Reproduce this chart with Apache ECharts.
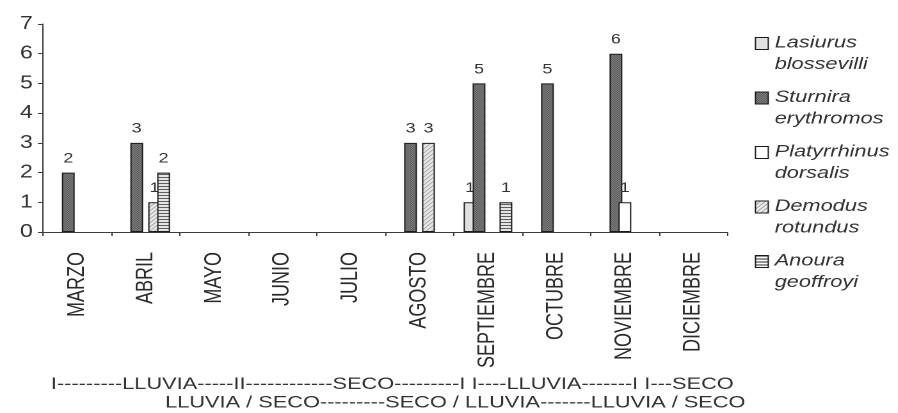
<!DOCTYPE html>
<html>
<head>
<meta charset="utf-8">
<script src="https://cdn.jsdelivr.net/npm/echarts@6/dist/echarts.min.js"></script>
<style>
  html, body { margin: 0; padding: 0; background: #fff; overflow: hidden; }
  /* chart is laid out narrower and widened horizontally, giving the wide lettering */
  #chart { width: 701.5625px; height: 413px; transform: scaleX(1.28); transform-origin: 0 0; }
</style>
</head>
<body>
<div id="chart"></div>
<script>
// Monthly captures per bat species
const months = ['MARZO', 'ABRIL', 'MAYO', 'JUNIO', 'JULIO', 'AGOSTO', 'SEPTIEMBRE', 'OCTUBRE', 'NOVIEMBRE', 'DICIEMBRE'];
const speciesNames = ['Lasiurus blossevilli', 'Sturnira erythromos', 'Platyrrhinus dorsalis', 'Demodus rotundus', 'Anoura geoffroyi'];
const lasiurus     = [null, null, null, null, null, null, 1, null, null, null];
const sturnira     = [2, 3, null, null, null, 3, 5, 5, 6, null];
const platyrrhinus = [null, null, null, null, null, null, null, null, 1, null];
const demodus      = [null, 1, null, null, null, 3, null, null, null, null];
const anoura       = [null, 2, null, null, null, null, 1, null, null, null];
const yTicks = [0, 1, 2, 3, 4, 5, 6, 7];

// Season markers under the month axis
const seasonLine1 = 'I---------LLUVIA-----II------------SECO---------I I----LLUVIA-------I I---SECO';
const seasonLine2 = 'LLUVIA / SECO---------SECO / LLUVIA-------LLUVIA / SECO';

const FONT = '"Liberation Sans", Arial, Helvetica, sans-serif';

// Small tiled fills for the bars
function tile(w, h, draw) {
  const c = document.createElement('canvas');
  c.width = w; c.height = h;
  draw(c.getContext('2d'));
  return { image: c, repeat: 'repeat' };
}
const fills = [
  tile(2, 2, ctx => { ctx.fillStyle = '#eeeeee'; ctx.fillRect(0, 0, 2, 2); ctx.fillStyle = '#d2d2d2'; ctx.fillRect(0, 0, 1, 1); ctx.fillRect(1, 1, 1, 1); }),
  tile(2, 2, ctx => { ctx.fillStyle = '#a0a0a0'; ctx.fillRect(0, 0, 2, 2); ctx.fillStyle = '#3a3a3a'; ctx.fillRect(0, 0, 1, 1); ctx.fillRect(1, 1, 1, 1); }),
  '#ffffff',
  tile(4, 4, ctx => { ctx.fillStyle = '#eeeeee'; ctx.fillRect(0, 0, 4, 4); ctx.fillStyle = '#8a8a8a'; ctx.fillRect(3, 0, 1, 1); ctx.fillRect(2, 1, 1, 1); ctx.fillRect(1, 2, 1, 1); ctx.fillRect(0, 3, 1, 1); }),
  tile(3, 3, ctx => { ctx.fillStyle = '#ffffff'; ctx.fillRect(0, 0, 3, 3); ctx.fillStyle = '#2a2a2a'; ctx.fillRect(0, 0, 3, 1); })
];
const seriesData = [lasiurus, sturnira, platyrrhinus, demodus, anoura];

const legendFont = { fontFamily: FONT, fontSize: 17, fontStyle: 'italic', color: '#333' };

const chart = echarts.init(document.getElementById('chart'), null, { devicePixelRatio: 2 });

chart.setOption({
  animation: false,
  backgroundColor: '#ffffff',
  textStyle: { fontFamily: FONT },
  grid: { left: 33.6, right: 133.6, top: 24, bottom: 181, outerBoundsMode: 'none' },
  legend: {
    orient: 'vertical',
    left: 589.7,
    top: 34.5,
    padding: 0,
    icon: 'rect',
    itemWidth: 10,
    itemHeight: 12,
    itemGap: 16,
    selectedMode: false,
    itemStyle: { borderColor: '#1a1a1a', borderWidth: 1 },
    // genus on the first line (level with the swatch), species epithet below it
    formatter: name => {
      const parts = name.split(' ');
      return '{g|' + parts[0] + '}\n{s|' + parts[1] + '}';
    },
    textStyle: Object.assign({}, legendFont, {
      rich: {
        g: Object.assign({ lineHeight: 42 }, legendFont),
        s: Object.assign({ lineHeight: 1 }, legendFont)
      }
    }),
    data: speciesNames
  },
  xAxis: {
    type: 'category',
    data: months,
    axisLine: { lineStyle: { color: '#3a3a3a', width: 1 } },
    axisTick: { show: true, length: 4, lineStyle: { color: '#3a3a3a' } },
    axisLabel: { rotate: 90, margin: 20, interval: 0, fontSize: 18, color: '#2a2a2a', fontFamily: FONT },
    splitLine: { show: false }
  },
  yAxis: {
    type: 'value',
    min: yTicks[0],
    max: yTicks[yTicks.length - 1],
    interval: 1,
    axisLine: { show: true, lineStyle: { color: '#3a3a3a', width: 1 } },
    axisTick: { show: true, length: 4, lineStyle: { color: '#3a3a3a' } },
    axisLabel: { fontSize: 18, margin: 8, color: '#333', fontFamily: FONT },
    splitLine: { show: false }
  },
  series: speciesNames.map((name, i) => ({
    type: 'bar',
    name: name,
    data: seriesData[i],
    barWidth: 10,
    barGap: '-30%',
    z: 2 + i,
    itemStyle: { color: fills[i], borderColor: '#1a1a1a', borderWidth: 1 },
    label: { show: true, position: 'top', distance: 7, fontSize: 14, color: '#333', fontFamily: FONT }
  })),
  graphic: [
    { type: 'text', x: 39.8, y: 384.5, style: { text: seasonLine1, fontSize: 17, fontFamily: FONT, fill: '#333', verticalAlign: 'middle' } },
    { type: 'text', x: 129, y: 403, style: { text: seasonLine2, fontSize: 17, fontFamily: FONT, fill: '#333', verticalAlign: 'middle' } }
  ]
});
</script>
</body>
</html>
